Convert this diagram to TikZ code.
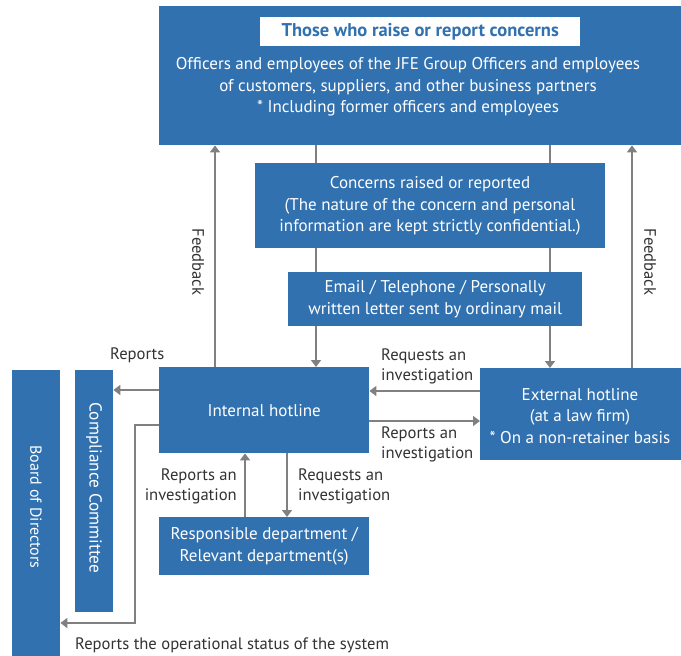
\documentclass[tikz,border=0pt]{standalone}
\usepackage{fontspec}
\setmainfont{PT Sans}
\usetikzlibrary{arrows.meta}
\definecolor{myblue}{RGB}{49,113,176}
\definecolor{mygray}{RGB}{128,128,128}
\definecolor{mytext}{RGB}{50,50,50}
\begin{document}
\begin{tikzpicture}[x=1pt,y=-1pt,
  box/.style={fill=myblue,text=white,inner sep=0pt,align=center,font=\fontsize{17}{21.5}\selectfont},
  lbl/.style={text=mytext,inner sep=0pt,font=\fontsize{16.6}{20}\selectfont},
  arr/.style={draw=mygray,line width=2.3pt,-{Triangle[width=10pt,length=7pt]}},
  ln/.style={draw=mygray,line width=2.3pt}]
\useasboundingbox (0,0) rectangle (681,656);
% main boxes
\node[box,minimum width=522pt,minimum height=139pt,anchor=north west] (top) at (159,6) {};
\node[fill=white,minimum width=320pt,minimum height=29pt,inner sep=0pt,anchor=north west,text=myblue,font=\fontsize{18.5}{20}\selectfont\bfseries] (title) at (260,17) {Those who raise or report concerns};
\node[box,fill=none] (toptext) at (408,87) {Officers and employees of the JFE Group Officers and employees\\of customers, suppliers, and other business partners\\* Including former officers and employees};
\node[box,minimum width=210pt,minimum height=86pt,anchor=north west] (internal) at (159,367) {Internal hotline};
\node[box,minimum width=201pt,minimum height=92pt,anchor=north west] (external) at (480,368) {};
\node[box,fill=none] (exttext) at (580,416) {External hotline\\(at a law firm)\\* On a non-retainer basis};
\node[box,minimum width=210pt,minimum height=58pt,anchor=north west] (resp) at (159,517) {Responsible department /\\Relevant department(s)};
\node[box,minimum width=38pt,minimum height=242pt,anchor=north west] (comp) at (75,370) {};
\node[text=white,rotate=-90,font=\fontsize{17.3}{18}\selectfont,inner sep=0pt] (comptext) at (94,488) {Compliance Committee};
\node[box,minimum width=48pt,minimum height=287pt,anchor=north west] (board) at (12,370) {};
\node[text=white,rotate=-90,font=\fontsize{16}{18}\selectfont,inner sep=0pt] (boardtext) at (36,507) {Board of Directors};
% helper coordinates
\coordinate (xa) at (215,0);
\coordinate (xb) at (316,0);
\coordinate (xc) at (550,0);
\coordinate (xd) at (632,0);
\coordinate (xe) at (245,0);
\coordinate (xf) at (287,0);
\coordinate (ya) at (0,391);
\coordinate (yb) at (0,421);
\coordinate (yc) at (0,390);
\coordinate (yd) at (0,425);
\coordinate (bend1) at (135,425);
\coordinate (bend2) at (135,623);
% connectors
\draw[arr] (internal.north -| xa) -- (top.south -| xa);
\draw[arr] (external.north -| xd) -- (top.south -| xd);
\draw[arr] (top.south -| xb) -- (internal.north -| xb);
\draw[arr] (top.south -| xc) -- (external.north -| xc);
\draw[arr] (external.west |- ya) -- (internal.east |- ya);
\draw[arr] (internal.east |- yb) -- (external.west |- yb);
\draw[arr] (resp.north -| xe) -- (internal.south -| xe);
\draw[arr] (internal.south -| xf) -- (resp.north -| xf);
\draw[arr] (internal.west |- yc) -- (comp.east |- yc);
\draw[arr] (internal.west |- yd) -- (bend1) -- (bend2) -- (board.east |- bend2);
% middle boxes over lines
\node[box,minimum width=350pt,minimum height=85pt,anchor=north west] (concerns) at (255,163) {};
\node[box,fill=none] (conctext) at (430,206) {Concerns raised or reported\\(The nature of the concern and personal\\information are kept strictly confidential.)};
\node[box,minimum width=294pt,minimum height=54pt,anchor=north west] (email) at (288,272) {Email / Telephone / Personally\\written letter sent by ordinary mail};
% labels
\node[lbl,rotate=-90] (fb1) at (198,262) {Feedback};
\node[lbl,rotate=-90] (fb2) at (650,262) {Feedback};
\node[lbl,anchor=west] (rep) at (110,355) {Reports};
\node[lbl,align=left,anchor=west] (req1) at (381,366) {Requests an\\investigation};
\node[lbl,align=left,anchor=west] (rep1) at (381,444) {Reports an\\investigation};
\node[lbl,align=right,anchor=east] (rep2) at (237,486) {Reports an\\investigation};
\node[lbl,align=left,anchor=west] (req2) at (298,486) {Requests an\\investigation};
\node[lbl,anchor=west] (ops) at (75,645) {Reports the operational status of the system};
\end{tikzpicture}
\end{document}
